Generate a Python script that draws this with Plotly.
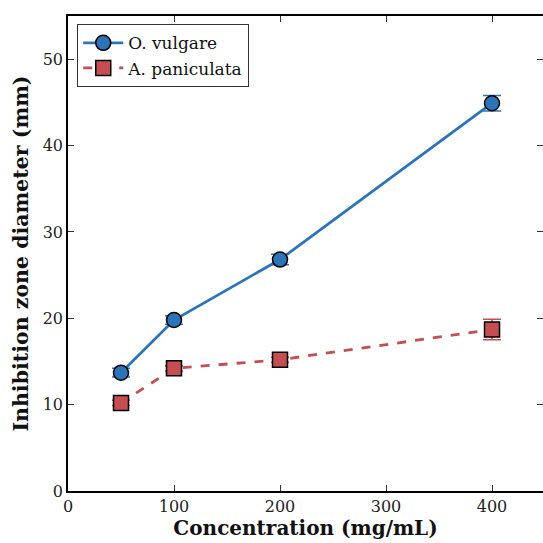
import plotly.graph_objects as go

conc = [50, 100, 200, 400]
vulgare = [13.7, 19.8, 26.8, 44.9]
vulgare_err = [0.5, 0.5, 0.6, 0.9]
panic = [10.2, 14.2, 15.2, 18.7]
panic_err = [0.3, 0.3, 0.3, 1.2]

blue = "#2b74b8"
red = "#c44e52"
font = "DejaVu Serif"

fig = go.Figure()
fig.add_trace(go.Scatter(
    x=conc, y=vulgare, name="O. vulgare", mode="lines+markers",
    line=dict(color=blue, width=2.8),
    marker=dict(symbol="circle", size=15, color=blue, line=dict(color="black", width=1.5)),
    error_y=dict(type="data", array=vulgare_err, color=blue, thickness=1.5, width=9),
))
fig.add_trace(go.Scatter(
    x=conc, y=panic, name="A. paniculata", mode="lines+markers",
    line=dict(color=red, width=2.8, dash="dash"),
    marker=dict(symbol="square", size=15, color=red, line=dict(color="black", width=1.5)),
    error_y=dict(type="data", array=panic_err, color=red, thickness=1.5, width=9),
))
# invisible helper trace so the right-hand tick axis is drawn
fig.add_trace(go.Scatter(
    x=conc, y=vulgare, yaxis="y2", mode="markers", showlegend=False,
    marker=dict(opacity=0), hoverinfo="skip",
))

tickfont = dict(family=font, size=16, color="#222")
fig.update_xaxes(
    range=[0, 448.1], tickvals=[0, 100, 200, 300, 400],
    showline=True, linecolor="black", linewidth=1.6, mirror="ticks",
    ticks="inside", ticklen=6, tickwidth=1.2, tickcolor="#333",
    showgrid=False, zeroline=False, tickfont=tickfont,
    title=dict(text="<b>Concentration (mg/mL)</b>", font=dict(family=font, size=20, color="#111"), standoff=3),
)
fig.update_layout(
    yaxis=dict(
        range=[0, 55], tickvals=[0, 10, 20, 30, 40, 50],
        showline=True, linecolor="black", linewidth=1.6, mirror=False,
        ticks="inside", ticklen=6, tickwidth=1.2, tickcolor="#333",
        showgrid=False, zeroline=False, tickfont=tickfont,
    ),
    yaxis2=dict(
        overlaying="y", side="right", anchor="x", range=[0, 55],
        tickvals=[0, 10, 20, 30, 40, 50], showticklabels=False,
        showline=False, ticks="inside", ticklen=6, tickwidth=1.2, tickcolor="#333",
        showgrid=False, zeroline=False,
    ),
    annotations=[dict(
        text="<b>Inhibition zone diameter (mm)</b>", textangle=-90,
        xref="paper", yref="paper", x=-0.101, y=0.5, xanchor="center", yanchor="middle",
        showarrow=False, font=dict(family=font, size=20.5, color="#111"),
    )],
    width=543, height=543,
    margin=dict(l=68, r=0, t=16, b=52),
    plot_bgcolor="white", paper_bgcolor="white",
    font=dict(family=font),
    legend=dict(
        x=0.019, y=0.983, xanchor="left", yanchor="top",
        bordercolor="#333", borderwidth=1.2, bgcolor="white",
        font=dict(family=font, size=17, color="#111"),
        itemwidth=40, tracegroupgap=0,
    ),
)
fig.write_html("out.html")
